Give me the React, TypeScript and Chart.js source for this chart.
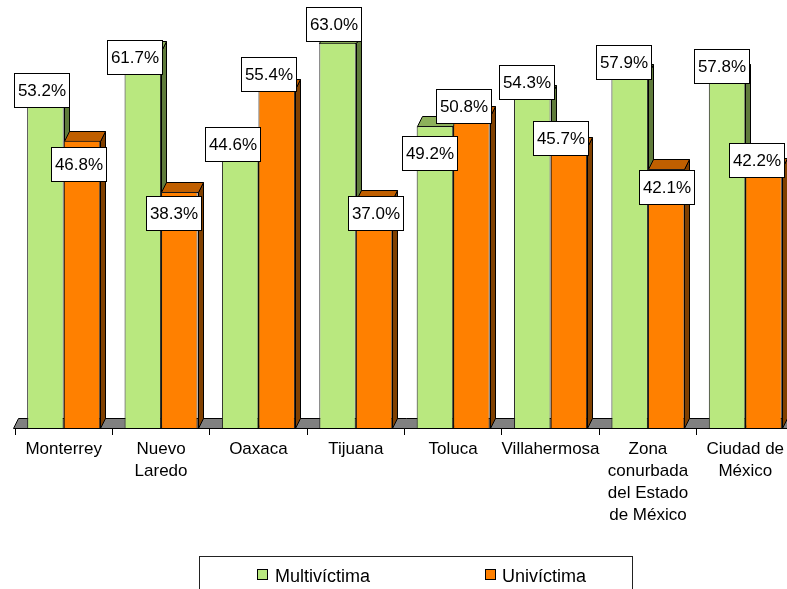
import React, { useEffect, useRef } from 'react';
import { Chart, registerables } from 'chart.js';

Chart.register(...registerables);

// ---- data ----
const categories: string[][] = [
  ['Monterrey'],
  ['Nuevo', 'Laredo'],
  ['Oaxaca'],
  ['Tijuana'],
  ['Toluca'],
  ['Villahermosa'],
  ['Zona', 'conurbada', 'del Estado', 'de México'],
  ['Ciudad de', 'México'],
];
const multivictima = [53.2, 61.7, 44.6, 63.0, 49.2, 54.3, 57.9, 57.8];
const univictima = [46.8, 38.3, 55.4, 37.0, 50.8, 45.7, 42.1, 42.2];
const seriesNames = ['Multivíctima', 'Univíctima'];

// manual label nudges (px, relative to the bar top centre), as placed in the original
const multiNudgeX = [-4, -8, -8, -4, -5.5, -5.5, -6.5, -5.5];
const multiNudgeY = [-12.5, 6.3, -10.2, -18.4, 26.8, -12.9, -11.2, -8];
const uniNudgeX = [-3.7, -6, -7.8, 1.4, -7.6, -8, 0, -6.8];
const uniNudgeY = [23, 20.7, -14.3, 13.2, -10.7, -9, 17.7, -8.7];

// ---- styles ----
const FONT = '"Liberation Sans", Arial, sans-serif';
const DX = 5;
const DY = -10;
const COLORS = [
  { front: '#B9E87F', top: '#8CB05A', side: '#5F7B3B' },
  { front: '#FF8000', top: '#C05F00', side: '#804000' },
];
const nudges = [
  [multiNudgeX, multiNudgeY],
  [uniNudgeX, uniNudgeY],
];

const depthPlugin = {
  id: 'depth3d',
  beforeDatasetsDraw(chart: any) {
    const ctx = chart.ctx as CanvasRenderingContext2D;
    const a = chart.chartArea;
    ctx.save();
    ctx.lineWidth = 1;
    ctx.strokeStyle = '#000';
    // floor
    ctx.beginPath();
    ctx.moveTo(a.left - 1.5, a.bottom + 0.5);
    ctx.lineTo(a.right + 2, a.bottom + 0.5);
    ctx.lineTo(a.right + 2 + DX, a.bottom + 0.5 + DY);
    ctx.lineTo(a.left - 1.5 + DX, a.bottom + 0.5 + DY);
    ctx.closePath();
    ctx.fillStyle = '#808080';
    ctx.fill();
    ctx.stroke();
    // top and side faces
    chart.data.datasets.forEach((_ds: any, di: number) => {
      const meta = chart.getDatasetMeta(di);
      meta.data.forEach((el: any) => {
        const { x, y, base, width } = el.getProps(['x', 'y', 'base', 'width'], true);
        const l = Math.round(x - width / 2) + 0.5;
        const r = Math.round(x + width / 2) + 0.5;
        const t = Math.round(y) + 0.5;
        const b = Math.round(base) + 0.5;
        // side
        ctx.beginPath();
        ctx.moveTo(r, t);
        ctx.lineTo(r + DX, t + DY);
        ctx.lineTo(r + DX, b + DY);
        ctx.lineTo(r, b);
        ctx.closePath();
        ctx.fillStyle = COLORS[di].side;
        ctx.fill();
        ctx.stroke();
        // top
        ctx.beginPath();
        ctx.moveTo(l, t);
        ctx.lineTo(r, t);
        ctx.lineTo(r + DX, t + DY);
        ctx.lineTo(l + DX, t + DY);
        ctx.closePath();
        ctx.fillStyle = COLORS[di].top;
        ctx.fill();
        ctx.stroke();
      });
    });
    ctx.restore();
  },
  afterDatasetsDraw(chart: any) {
    const ctx = chart.ctx as CanvasRenderingContext2D;
    ctx.save();
    ctx.font = `17px ${FONT}`;
    ctx.textAlign = 'center';
    ctx.textBaseline = 'middle';
    ctx.lineWidth = 1;
    const bw = 55;
    const bh = 34;
    chart.data.datasets.forEach((ds: any, di: number) => {
      const meta = chart.getDatasetMeta(di);
      meta.data.forEach((el: any, i: number) => {
        const { x, y } = el.getProps(['x', 'y'], true);
        const cx = x + nudges[di][0][i];
        const cy = y + nudges[di][1][i];
        const bx = Math.round(cx - bw / 2) + 0.5;
        const by = Math.round(cy - bh / 2) + 0.5;
        ctx.fillStyle = '#fff';
        ctx.fillRect(bx, by, bw, bh);
        ctx.strokeStyle = '#000';
        ctx.strokeRect(bx, by, bw, bh);
        ctx.fillStyle = '#000';
        ctx.fillText(ds.data[i].toFixed(1) + '%', bx + bw / 2, by + bh / 2 + 1);
      });
    });
    ctx.restore();
  },
  afterDraw(chart: any) {
    const ctx = chart.ctx as CanvasRenderingContext2D;
    ctx.save();
    // legend box
    ctx.lineWidth = 1;
    ctx.strokeStyle = '#222';
    ctx.fillStyle = '#fff';
    ctx.fillRect(199.5, 556.5, 433, 60);
    ctx.strokeRect(199.5, 556.5, 433, 60);
    const items = [
      { sx: 257, tx: 275 },
      { sx: 485, tx: 502 },
    ];
    ctx.font = `18px ${FONT}`;
    ctx.textAlign = 'left';
    ctx.textBaseline = 'alphabetic';
    items.forEach((it, di) => {
      ctx.fillStyle = COLORS[di].front;
      ctx.fillRect(it.sx + 0.5, 569.5, 10, 10);
      ctx.strokeStyle = '#000';
      ctx.strokeRect(it.sx + 0.5, 569.5, 10, 10);
      ctx.fillStyle = '#000';
      ctx.fillText(seriesNames[di], it.tx, 582);
    });
    ctx.restore();
  },
};

export default function App() {
  const ref = useRef<HTMLCanvasElement | null>(null);
  useEffect(() => {
    if (!ref.current) return;
    const chart = new Chart(ref.current, {
      type: 'bar',
      data: {
        labels: categories,
        datasets: [
          {
            label: seriesNames[0],
            data: multivictima,
            backgroundColor: COLORS[0].front,
            borderColor: '#1a1a1a',
            borderWidth: 1,
            base: -0.81,
          } as any,
          {
            label: seriesNames[1],
            data: univictima,
            backgroundColor: COLORS[1].front,
            borderColor: '#1a1a1a',
            borderWidth: 1,
            base: -0.81,
          } as any,
        ],
      },
      options: {
        responsive: false,
        animation: false,
        devicePixelRatio: 1,
        layout: { padding: { left: 15, right: 0, top: 0, bottom: 0 } },
        datasets: { bar: { categoryPercentage: 0.75, barPercentage: 1 } },
        plugins: { legend: { display: false }, tooltip: { enabled: false } },
        scales: {
          x: {
            grid: {
              display: true,
              drawOnChartArea: false,
              drawTicks: true,
              tickLength: 7,
              color: '#000',
              offset: true,
            },
            border: { display: true, color: '#000', width: 1 },
            ticks: {
              autoSkip: false,
              maxRotation: 0,
              minRotation: 0,
              padding: 3,
              color: '#000',
              font: { family: FONT, size: 17, lineHeight: '22px' as any },
            },
            afterFit: (scale: any) => {
              scale.height = 161;
            },
          },
          y: { display: false, min: -0.81, max: 70.1 },
        },
      },
      plugins: [depthPlugin],
    });
    return () => chart.destroy();
  }, []);
  return (
    <div
      style={{
        position: 'absolute',
        left: 0,
        top: 0,
        width: 787,
        height: 589,
        overflow: 'hidden',
        background: '#fff',
      }}
    >
      <canvas ref={ref} width={794} height={589} style={{ width: 794, height: 589, display: 'block' }} />
    </div>
  );
}
